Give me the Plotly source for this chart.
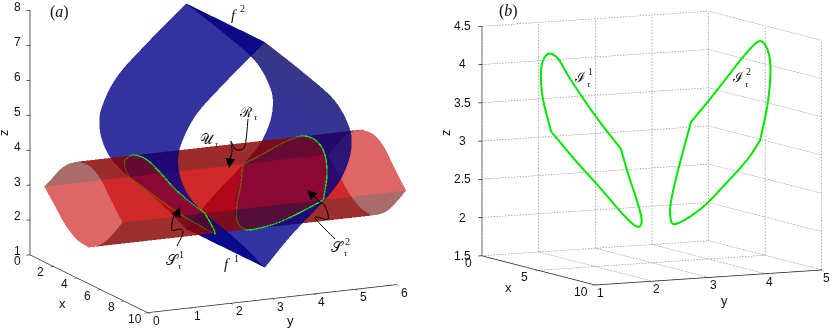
import numpy as np
import plotly.graph_objects as go

# ---- panel (a) data: tube cross-section (x, z), extruded along y
ring_x = [1.19, 1.84, 2.54, 3.25, 4.10, 5.08, 5.93, 6.78, 7.82, 7.20, 6.36, 5.65, 4.94, 3.96, 2.97, 2.12, 1.19]
ring_z = [3.15, 3.49, 3.87, 4.14, 4.35, 4.37, 4.17, 3.74, 3.22, 2.86, 2.43, 2.19, 2.03, 2.09, 2.35, 2.73, 3.15]
tube_y = [0.0, 6.84]
# lens profile (half width in y against z), extruded along x
lens_z = [1.48, 2.30, 3.14, 3.68, 4.20, 4.71, 5.25, 6.06, 6.92, 7.94]
lens_g = [0.00, 0.62, 1.37, 1.78, 2.00, 2.09, 2.03, 1.67, 0.95, 0.00]
lens_y0 = 3.42
lens_x = [1.19, 7.88]
# intersection curves of panel (a)
s1_y = [2.05, 1.79, 1.55, 1.44, 1.38, 1.38, 1.43, 1.61, 1.99, 2.27, 2.62, 2.84, 3.04, 2.97, 2.70, 2.37, 2.05]
s2_y = [4.79, 5.05, 5.29, 5.40, 5.46, 5.46, 5.41, 5.23, 4.85, 4.57, 4.22, 4.00, 3.80, 3.87, 4.14, 4.47, 4.79]
# panel (b) curves
i1_x = [1.19, 1.84, 2.54, 3.25, 4.10, 5.08, 5.93, 6.78, 7.82, 7.20, 6.36, 5.65, 4.94, 3.96, 2.97, 2.12, 1.19]
i1_y = [1.98, 1.71, 1.53, 1.42, 1.36, 1.33, 1.37, 1.64, 1.89, 2.14, 2.46, 2.69, 2.76, 2.73, 2.52, 2.22, 1.98]
i1_z = [3.12, 3.57, 3.91, 4.14, 4.28, 4.25, 4.02, 3.56, 3.15, 2.79, 2.40, 2.10, 1.98, 2.08, 2.40, 2.77, 3.12]
i2_x = [2.19, 2.84, 3.54, 4.25, 5.10, 6.08, 6.93, 7.78, 8.82, 8.20, 7.36, 6.65, 5.94, 4.96, 3.97, 3.12, 2.19]
i2_y = [4.25, 4.45, 4.63, 4.79, 4.88, 4.83, 4.71, 4.49, 4.15, 4.06, 3.87, 3.55, 3.23, 3.33, 3.56, 3.87, 4.25]
i2_z = [3.17, 3.48, 3.80, 4.10, 4.31, 4.23, 4.01, 3.61, 3.19, 2.93, 2.61, 2.25, 2.03, 2.11, 2.30, 2.69, 3.17]
# ticks
a_xticks = [0, 2, 4, 6, 8, 10]
a_yticks = [0, 1, 2, 3, 4, 5, 6]
a_zticks = [1, 2, 3, 4, 5, 6, 7, 8]
b_xticks = [0, 5, 10]
b_yticks = [1, 2, 3, 4, 5]
b_zticks = [1.5, 2, 2.5, 3, 3.5, 4, 4.5]

W, H = 830, 328
RED = (200, 0, 0); RED_BAND = (150, 0, 0); RED_D = (113, 8, 8); BLUE_L = (0, 0, 136)
A_T, B_T = 0.6, 0.8


def catmull(p, n):
    p = np.asarray(p, float)
    q = np.vstack([2 * p[0] - p[1], p, 2 * p[-1] - p[-2]])
    out = []
    for i in range(1, len(q) - 2):
        for t in np.linspace(0, 1, n, endpoint=False):
            out.append(0.5 * (2 * q[i] + (q[i + 1] - q[i - 1]) * t
                              + (2 * q[i - 1] - 5 * q[i] + 4 * q[i + 1] - q[i + 2]) * t * t
                              + (3 * q[i] - q[i - 1] - 3 * q[i + 1] + q[i + 2]) * t ** 3))
    out.append(p[-1])
    return np.array(out)


def view_dir(el, t):
    el, t = np.radians(el), np.radians(t)
    return np.array([np.cos(el) * np.cos(t), -np.cos(el) * np.sin(t), np.sin(el)])


def basis(el, t):
    a, b = np.radians(el), np.radians(t)
    return (np.array([np.sin(b), np.cos(b), 0.0]),
            np.array([-np.sin(a) * np.cos(b), np.sin(a) * np.sin(b), np.cos(a)]))


EL_A, T_A = 13.6, 25.6
EL_B, T_B = 7.5, 26.9
LA = np.array([27.3, 46.0, 36.0])   # px per data unit along each axis, panel a
LB = np.array([25.0, 63.6, 77.3])
RA, UA = basis(EL_A, T_A)


def screen(p):
    q = np.asarray(p) * LA
    return np.column_stack([q @ RA, q @ UA])


def inside(pts, poly):
    x, y = pts[:, 0], pts[:, 1]
    res = np.zeros(len(pts), bool)
    for i in range(len(poly)):
        x1, y1 = poly[i]
        x2, y2 = poly[(i + 1) % len(poly)]
        cond = (y1 > y) != (y2 > y)
        with np.errstate(divide="ignore", invalid="ignore"):
            xi = x1 + (y - y1) * (x2 - x1) / (y2 - y1)
        res ^= cond & (x < xi)
    return res


verts, faces, cols = [], [], []


def add_grid(P, colfun, alpha):
    """P: nu x nv x 3 grid of points; colfun gives the colour of a cell from its centre"""
    base = sum(len(v) for v in verts)
    nu, nv = P.shape[:2]
    verts.append(P.reshape(-1, 3))
    cen = 0.25 * (P[:-1, :-1] + P[1:, :-1] + P[:-1, 1:] + P[1:, 1:])
    colr = colfun(cen)
    for a in range(nu - 1):
        for b in range(nv - 1):
            p = base + a * nv + b
            c = f"rgba({colr[a][b][0]:.0f},{colr[a][b][1]:.0f},{colr[a][b][2]:.0f},{alpha})"
            faces.append((p, p + nv, p + 1)); cols.append(c)
            faces.append((p + 1, p + nv, p + nv + 1)); cols.append(c)


def flat(col):
    return lambda cen: np.broadcast_to(np.array(col, float), cen.shape)


rp = np.column_stack([ring_x, ring_z])
ys = np.linspace(tube_y[0], tube_y[1], 70)
ab = catmull(rp[0:5], 5)
ab_poly = screen(np.vstack([np.column_stack([ab[:, 0], np.full(len(ab), tube_y[0]), ab[:, 1]]),
                            np.column_stack([ab[:, 0], np.full(len(ab), tube_y[1]), ab[:, 1]])[::-1]]))


def bc_col(cen):
    out = np.zeros(cen.shape)
    mask = inside(screen(cen.reshape(-1, 3)), ab_poly).reshape(cen.shape[:2])
    out[:] = RED
    out[mask] = RED_BAND
    return out


side_idx = [(0, 4, flat(RED_D)), (4, 8, bc_col), (8, 12, flat(RED_D)), (12, 16, flat(RED))]
for s, e, colf in side_idx:
    seg_ = catmull(rp[s:e + 1], 10)
    P = np.zeros((len(seg_), len(ys), 3))
    P[:, :, 0] = seg_[:, 0][:, None]
    P[:, :, 1] = ys
    P[:, :, 2] = seg_[:, 1][:, None]
    add_grid(P, colf, A_T)

lp = catmull(np.column_stack([lens_z, lens_g]), 8)
xs = np.linspace(lens_x[0], lens_x[1], 28)


def right_sheet(cen):
    t = np.clip((cen[..., 2] - 3.0) / 4.5, 0, 1)[..., None]
    return (1 - t) * np.array([0.0, 0.0, 138.0]) + t * np.array([6.0, 6.0, 98.0])


for sign, colf in ((-1, flat(BLUE_L)), (1, right_sheet)):
    P = np.zeros((len(xs), len(lp), 3))
    P[:, :, 0] = xs[:, None]
    P[:, :, 1] = lens_y0 + sign * lp[:, 1]
    P[:, :, 2] = lp[:, 0]
    add_grid(P, colf, B_T)

V = np.vstack(verts)
F = np.array(faces)
C = np.array(cols)
d = view_dir(EL_A, T_A)
depth = ((V[F] * LA).mean(axis=1) * d).sum(axis=1)
order = np.argsort(depth)
F, C = F[order], C[order]

fig = go.Figure()
fig.add_trace(go.Mesh3d(x=V[:, 0], y=V[:, 1], z=V[:, 2], i=F[:, 0], j=F[:, 1], k=F[:, 2],
                        facecolor=list(C), flatshading=True, showscale=False, hoverinfo="skip",
                        lighting=dict(ambient=1, diffuse=0, specular=0, fresnel=0, roughness=1),
                        scene="scene"))


def closed(x, y, z, scene, width, lift=None):
    p = np.column_stack([x, y, z])
    c = np.vstack([catmull(p[0:9], 5), catmull(p[8:17], 5)[1:]])
    if lift is not None:
        c = c + lift      # moves the curve toward the camera only; it stays in place on screen
    fig.add_trace(go.Scatter3d(x=c[:, 0], y=c[:, 1], z=c[:, 2], mode="lines", hoverinfo="skip",
                               line=dict(color="#00e600", width=width), scene=scene, showlegend=False))


LIFT = view_dir(EL_A, T_A) / LA * 4.0
closed(ring_x, s1_y, ring_z, "scene", 2.5, LIFT)
closed(ring_x, s2_y, ring_z, "scene", 2.5, LIFT)
closed(i1_x, i1_y, i1_z, "scene2", 4)
closed(i2_x, i2_y, i2_z, "scene2", 4)

# y axis line of panel (a) stops at the last tick
fig.add_trace(go.Scatter3d(x=[10, 10], y=[a_yticks[0], a_yticks[-1]], z=[1, 1], mode="lines", hoverinfo="skip",
                           line=dict(color="#222", width=1.5), scene="scene", showlegend=False))

# dotted grid of panel (b)
gx, gy, gz = [], [], []


def seg(a, b):
    a, b = np.array(a, float), np.array(b, float)
    n = int(np.linalg.norm((b - a) * LB) / 3.2)
    for i in range(n):
        p = a + (b - a) * i / n
        q = a + (b - a) * (i + 0.5) / n
        gx.extend([p[0], q[0], None]); gy.extend([p[1], q[1], None]); gz.extend([p[2], q[2], None])


x0, x1, y0, y1, z0, z1 = b_xticks[0], b_xticks[-1], b_yticks[0], b_yticks[-1], b_zticks[0], b_zticks[-1]
for v in b_yticks:
    seg((x0, v, z0), (x0, v, z1)); seg((x0, v, z0), (x1, v, z0))
for v in b_xticks:
    seg((v, y1, z0), (v, y1, z1)); seg((v, y0, z0), (v, y1, z0))
for v in b_zticks:
    seg((x0, y0, v), (x0, y1, v)); seg((x0, y1, v), (x1, y1, v))
fig.add_trace(go.Scatter3d(x=gx, y=gy, z=gz, mode="lines", hoverinfo="skip", connectgaps=False,
                           line=dict(color="#666", width=1), scene="scene2", showlegend=False))

TF = dict(family="Liberation Sans", size=12, color="#111")


def axis(rng, ticks, showline=True):
    return dict(range=rng, tickmode="array", tickvals=ticks, showticklabels=False,
                showgrid=False, zeroline=False, showbackground=False, showspikes=False,
                showline=showline, linecolor="#222", linewidth=1.5, ticks="outside", ticklen=4,
                tickcolor="#222", tickwidth=1.5, title=dict(text=""))


P_UNIT = 164.0
ASP_A = LA * np.array([10, 6.84, 7]) / P_UNIT
ASP_B = LB * np.array([10, 4, 3]) / P_UNIT


def cam(el, t, dx, dy):
    """dx, dy: pixels to move the picture right / up inside its domain"""
    r, u = basis(el, t)
    c = -(dx * r + dy * u) / P_UNIT
    e = view_dir(el, t) * 2.0 + c
    return dict(eye=dict(x=e[0], y=e[1], z=e[2]), center=dict(x=c[0], y=c[1], z=c[2]),
                up=dict(x=0, y=0, z=1), projection=dict(type="orthographic"))


def tick_notes(xt, yt, zt, xpos, ypos, zpos, xs_, ys_, zs_):
    out = []
    for v in xt:
        out.append(dict(x=v, y=xpos[0], z=xpos[1], text=str(v), xshift=xs_[0], yshift=-xs_[1]))
    for v in yt:
        out.append(dict(x=ypos[0], y=v, z=ypos[1], text=str(v), xshift=ys_[0], yshift=-ys_[1]))
    for v in zt:
        out.append(dict(x=zpos[0], y=zpos[1], z=v, text=str(v), xshift=zs_[0], yshift=-zs_[1]))
    for a in out:
        a.update(showarrow=False, font=TF, xanchor="center", yanchor="middle")
    return out


fig.update_layout(
    width=W, height=H, margin=dict(l=0, r=0, t=0, b=0), paper_bgcolor="white", showlegend=False,
    scene=dict(domain=dict(x=[0, 0.5], y=[0, 1]), bgcolor="rgba(0,0,0,0)",
               xaxis=axis([-0.005, 10.01], a_xticks), yaxis=axis([-0.005, 6.84], a_yticks, False),
               zaxis=axis([0.995, 8.01], a_zticks), aspectmode="manual",
               aspectratio=dict(x=ASP_A[0], y=ASP_A[1], z=ASP_A[2]), camera=cam(EL_A, T_A, 23.4, 18.5),
               annotations=tick_notes(a_xticks, a_yticks, a_zticks, (0, 1), (10, 1), (0, 0), (-13, 6), (8, 8), (-13, -3.5))),
    scene2=dict(domain=dict(x=[0.5, 1], y=[0, 1]), bgcolor="rgba(0,0,0,0)",
                xaxis=axis([-0.005, 10.01], b_xticks), yaxis=axis([0.998, 5.005], b_yticks),
                zaxis=axis([1.498, 4.503], b_zticks), aspectmode="manual",
                aspectratio=dict(x=ASP_B[0], y=ASP_B[1], z=ASP_B[2]), camera=cam(EL_B, T_B, 29.5, 16),
                annotations=tick_notes(b_xticks, b_yticks, b_zticks, (1, 1.5), (10, 1.5), (0, 1), (-14, 7), (5, 8), (-20, 0))),
)


def px(x, y):
    return x / W, 1 - y / H


MF = "Liberation Serif"
SC = {"U": "\U0001D4B0", "R": "\u211B", "S": "\U0001D4AE", "I": "\u2110"}
labels = [("(<i>a</i>)", 59, 12, 16), ("(<i>b</i>)", 508, 11, 16),
          ("<i>f</i>", 234, 15, 15), ("2", 242, 8, 10), ("<i>f</i>", 227, 264, 15), ("1", 236, 258, 10),
          (SC["U"], 207, 139, 14), ("<i>\u03c4</i>", 217, 144, 9),
          (SC["R"], 246, 112, 14), ("<i>\u03c4</i>", 256, 117, 9),
          (SC["S"], 172, 260, 15), ("1", 181, 254, 10), ("<i>\u03c4</i>", 180, 266, 9),
          (SC["S"], 337, 247, 15), ("2", 347, 241, 10), ("<i>\u03c4</i>", 346, 253, 9),
          (SC["I"], 580, 77, 14), ("1", 590, 72, 10), ("<i>\u03c4</i>", 589, 84, 9),
          (SC["I"], 738, 77, 14), ("2", 748, 72, 10), ("<i>\u03c4</i>", 747, 84, 9)]
for t, x, y, s in labels:
    ax, ay = px(x, y)
    fig.add_annotation(text=t, x=ax, y=ay, xref="paper", yref="paper", showarrow=False,
                       font=dict(family=MF, size=s, color="#111"), xanchor="center", yanchor="middle")

# axis titles
titles = [("x", 62, 303, 0), ("y", 290, 320, 0), ("z", 3, 133, -90), ("x", 508, 287, 0), ("y", 724, 300, 0), ("z", 445, 133, -90)]
for t, x, y, ang in titles:
    ax, ay = px(x, y)
    fig.add_annotation(text=t, x=ax, y=ay, xref="paper", yref="paper", showarrow=False, textangle=ang,
                       font=dict(family="Liberation Sans", size=13, color="#111"), xanchor="center", yanchor="middle")

# curled call-out arrows
curls = [
    [(248, 119), (246, 140), (243, 149), (235, 149), (231, 141), (232, 150), (231, 157)],
    [(177, 246), (183, 233), (180, 229), (172, 230), (173, 218), (175, 215), (177, 212)],
    [(335, 239), (322, 226), (315, 217), (328, 219), (325, 206), (320, 202), (315, 197)],
]
heads = [((229, 168), (231, 154)), ((180, 207), (175, 219)), ((307, 190), (318, 200))]
for c in curls:
    pts = catmull(c, 6)
    path = "M " + " L ".join("%.5f,%.5f" % px(a, b) for a, b in pts)
    fig.add_shape(type="path", path=path, xref="paper", yref="paper", line=dict(color="black", width=1), layer="above")
for tip, tail in heads:
    ax, ay = px(*tip)
    fig.add_annotation(x=ax, y=ay, xref="paper", yref="paper", text="", showarrow=True, arrowhead=2, arrowsize=1.6,
                       arrowwidth=1.2, arrowcolor="black", ax=tail[0] - tip[0], ay=tail[1] - tip[1], axref="pixel", ayref="pixel")

fig.write_html("out.html", config=dict(displayModeBar=False),
               post_script="document.body.style.margin='0';document.body.style.overflow='hidden';")
